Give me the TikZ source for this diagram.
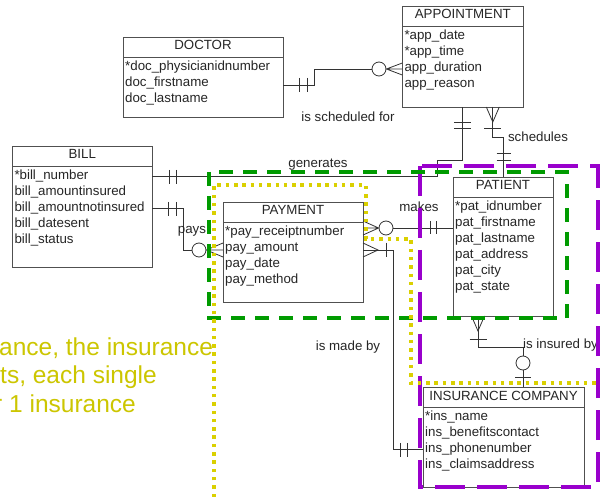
\documentclass[tikz,border=0pt]{standalone}
\usepackage{fontspec}
\setmainfont{Liberation Sans}
\usetikzlibrary{calc,positioning}

\definecolor{erline}{RGB}{80,80,80}
\definecolor{dashgreen}{RGB}{0,155,0}
\definecolor{dashpurple}{RGB}{153,0,204}
\definecolor{dotyellow}{RGB}{218,208,0}
\definecolor{noteyellow}{RGB}{204,198,0}

\begin{document}
\begin{tikzpicture}[x=1pt,y=-1pt,
    entity/.style={draw=erline, line width=0.8pt, anchor=north west, inner sep=0pt, outer sep=0pt},
    etitle/.style={anchor=base, inner sep=0pt, font=\fontsize{13.3}{16}\selectfont, text=black!85},
    attr/.style={anchor=base west, inner sep=0pt, font=\fontsize{13.3}{16}\selectfont, text=black!85},
    rel/.style={inner sep=0pt, font=\fontsize{13.3}{16}\selectfont, text=black!85},
    link/.style={draw=black!80, line width=0.8pt},
    zeroring/.style={circle, draw=black!80, line width=0.8pt, fill=white, minimum size=14pt, inner sep=0pt},
    grpgreen/.style={draw=dashgreen, line width=3.5pt, dash pattern=on 14pt off 10pt},
    grppurple/.style={draw=dashpurple, line width=3.5pt, dash pattern=on 30pt off 12pt},
    grpyellow/.style={draw=dotyellow, line width=3.5pt, dash pattern=on 3.5pt off 4.8pt},
    note/.style={anchor=base west, inner sep=0pt, text=noteyellow, font=\fontsize{24.5}{29}\selectfont}
]
    \useasboundingbox[fill=white] (0,0) rectangle (600,497);

    % Entities
    \node[entity, minimum width=160pt, minimum height=80pt] (doctor) at (123,37) {};
    \node[etitle] (doctor-t) at ($(doctor.north)+(0,13)$) {DOCTOR};
    \draw[erline, line width=0.8pt] ($(doctor.north west)+(0,20)$) -- ($(doctor.north east)+(0,20)$);
    \foreach \a [count=\i] in {*doc\_physicianidnumber, doc\_firstname, doc\_lastname}
        \node[attr] (doctor-\i) at ($(doctor.north west)+(2,17.5+16*\i)$) {\a};

    \node[entity, minimum width=121pt, minimum height=101pt] (appointment) at (402.3,6) {};
    \node[etitle] (appointment-t) at ($(appointment.north)+(0,13)$) {APPOINTMENT};
    \draw[erline, line width=0.8pt] ($(appointment.north west)+(0,20)$) -- ($(appointment.north east)+(0,20)$);
    \foreach \a [count=\i] in {*app\_date, *app\_time, app\_duration, app\_reason}
        \node[attr] (appointment-\i) at ($(appointment.north west)+(2,17.5+16*\i)$) {\a};

    \node[entity, minimum width=140pt, minimum height=121pt] (bill) at (12.3,146) {};
    \node[etitle] (bill-t) at ($(bill.north)+(0,13)$) {BILL};
    \draw[erline, line width=0.8pt] ($(bill.north west)+(0,20)$) -- ($(bill.north east)+(0,20)$);
    \foreach \a [count=\i] in {*bill\_number, bill\_amountinsured, bill\_amountnotinsured, bill\_datesent, bill\_status}
        \node[attr] (bill-\i) at ($(bill.north west)+(2,17.5+16*\i)$) {\a};

    \node[entity, minimum width=140pt, minimum height=100pt] (payment) at (223,202) {};
    \node[etitle] (payment-t) at ($(payment.north)+(0,13)$) {PAYMENT};
    \draw[erline, line width=0.8pt] ($(payment.north west)+(0,20)$) -- ($(payment.north east)+(0,20)$);
    \foreach \a [count=\i] in {*pay\_receiptnumber, pay\_amount, pay\_date, pay\_method}
        \node[attr] (payment-\i) at ($(payment.north west)+(2,17.5+16*\i)$) {\a};

    \node[entity, minimum width=100pt, minimum height=139pt] (patient) at (453,177) {};
    \node[etitle] (patient-t) at ($(patient.north)+(0,13)$) {PATIENT};
    \draw[erline, line width=0.8pt] ($(patient.north west)+(0,20)$) -- ($(patient.north east)+(0,20)$);
    \foreach \a [count=\i] in {*pat\_idnumber, pat\_firstname, pat\_lastname, pat\_address, pat\_city, pat\_state}
        \node[attr] (patient-\i) at ($(patient.north west)+(2,17.5+16*\i)$) {\a};

    \node[entity, minimum width=161pt, minimum height=100pt] (insurance) at (423,387) {};
    \node[etitle] (insurance-t) at ($(insurance.north)+(0,13)$) {INSURANCE COMPANY};
    \draw[erline, line width=0.8pt] ($(insurance.north west)+(0,20)$) -- ($(insurance.north east)+(0,20)$);
    \foreach \a [count=\i] in {*ins\_name, ins\_benefitscontact, ins\_phonenumber, ins\_claimsaddress}
        \node[attr] (insurance-\i) at ($(insurance.north west)+(2,17.5+16*\i)$) {\a};

    % is scheduled for
    \node[zeroring] (ring-sch) at (379,69) {};
    \coordinate (doc-out) at ($(doctor.north east)+(0,48)$);
    \draw[link] (doc-out) -- ++(31,0) |- (ring-sch.west);
    \draw[link] ($(doc-out)+(16,-7)$) -- ++(0,14) ($(doc-out)+(24,-7)$) -- ++(0,14);
    \draw[link] ($(appointment.north west)+(0,57)$) -- (ring-sch.east) -- ($(appointment.north west)+(0,69)$)
        (ring-sch.east) -- ($(appointment.north west)+(0,63)$);
    \node[rel] (lbl-sch) at (348,117) {is scheduled for};

    % generates
    \coordinate (bill-gen) at (bill.east |- bill-1.mid);
    \draw[link] (bill-gen) -- ++(285,0) -- ++(0,-16) -| (appointment.south);
    \draw[link] ($(bill-gen)+(17,-7)$) -- ++(0,14) ($(bill-gen)+(24,-7)$) -- ++(0,14);
    \draw[link] ($(appointment.south)+(-8.5,15)$) -- ++(17,0) ($(appointment.south)+(-8.5,21)$) -- ++(17,0);
    \node[rel] (lbl-gen) at (318,165) {generates};

    % schedules
    \coordinate (app-sch) at ($(appointment.south)+(30,0)$);
    \draw[link] ($(app-sch)+(-6.5,0)$) -- ($(app-sch)+(0,15)$) -- ($(app-sch)+(6.5,0)$);
    \draw[link] ($(app-sch)+(-8.5,21)$) -- ++(17,0);
    \draw[link] (app-sch) -- ++(0,30) -| (patient.north);
    \draw[link] ($(patient.north)+(-6.5,-24)$) -- ++(14,0) ($(patient.north)+(-6.5,-17)$) -- ++(14,0);
    \node[rel] (lbl-schd) at (538,137) {schedules};

    % pays
    \coordinate (bill-pay) at (bill.east |- bill-3.mid);
    \node[zeroring] (ring-pay) at (199,250) {};
    \draw[link] (bill-pay) -- ++(31,0) |- (ring-pay.west);
    \draw[link] ($(bill-pay)+(16,-7)$) -- ++(0,14) ($(bill-pay)+(24,-7)$) -- ++(0,14);
    \draw[link] ($(payment.north west)+(0,41)$) -- (ring-pay.east) -- ($(payment.north west)+(0,55)$)
        (ring-pay.east) -- ($(payment.north west)+(0,48)$);
    \node[rel] (lbl-pay) at (192,231) {pays};

    % makes
    \node[zeroring] (ring-mk) at (386,228) {};
    \draw[link] ($(payment.north east)+(0,19)$) -- (ring-mk.west) -- ($(payment.north east)+(0,33)$)
        (ring-mk.west) -- ($(payment.north east)+(0,26)$);
    \draw[link] (ring-mk.east) -- (ring-mk.east -| patient.west);
    \draw[link] ($(ring-mk.east -| patient.west)+(-23,-6.5)$) -- ++(0,13)
        ($(ring-mk.east -| patient.west)+(-17,-6.5)$) -- ++(0,13);
    \node[rel] (lbl-mk) at (419,207) {makes};

    % is made by
    \coordinate (pay-ins) at ($(payment.north east)+(15,48)$);
    \draw[link] ($(payment.north east)+(0,41)$) -- (pay-ins) -- ($(payment.north east)+(0,55)$);
    \draw[link] ($(payment.north east)+(0,48)$) -- ++(30,0) |- (insurance.west |- insurance-3.mid);
    \draw[link] ($(payment.north east)+(23,41)$) -- ++(0,14);
    \draw[link] ($(insurance.west |- insurance-3.mid)+(-23,-7)$) -- ++(0,14)
        ($(insurance.west |- insurance-3.mid)+(-16,-7)$) -- ++(0,14);
    \node[rel] (lbl-made) at (348,347) {is made by};

    % is insured by
    \coordinate (pat-ins) at ($(patient.south)+(-25,0)$);
    \node[zeroring] (ring-ins) at ($(insurance.north)+(19.5,-24)$) {};
    \draw[link] ($(pat-ins)+(-6.5,0)$) -- ($(pat-ins)+(0,15)$) -- ($(pat-ins)+(6.5,0)$);
    \draw[link] ($(pat-ins)+(-8.5,23)$) -- ++(17,0);
    \draw[link] (pat-ins) -- ++(0,31) -| (ring-ins.north);
    \draw[link] (ring-ins.south) -- (ring-ins.south |- insurance.north);
    \draw[link] ($(ring-ins.south)+(-8,7)$) -- ++(16,0);
    \node[rel, anchor=west] (lbl-ins) at (523,345) {is insured by};

    % Groupings
    \draw[grppurple] (420,166) rectangle (598,487);
    \draw[grpgreen] (209,172) rectangle (567,318);
    \draw[grpyellow] (214,497) -- (214,185) -- (366,185) -- (366,239) -- (411,239) -- (411,383) -- (600,383);

    % Note
    \node[note] (note1) at (-1,355) {ance, the insurance};
    \node[note] (note2) at (0,383) {ts, each single};
    \node[note] (note3) at (-6,412) {r 1 insurance};
\end{tikzpicture}
\end{document}
